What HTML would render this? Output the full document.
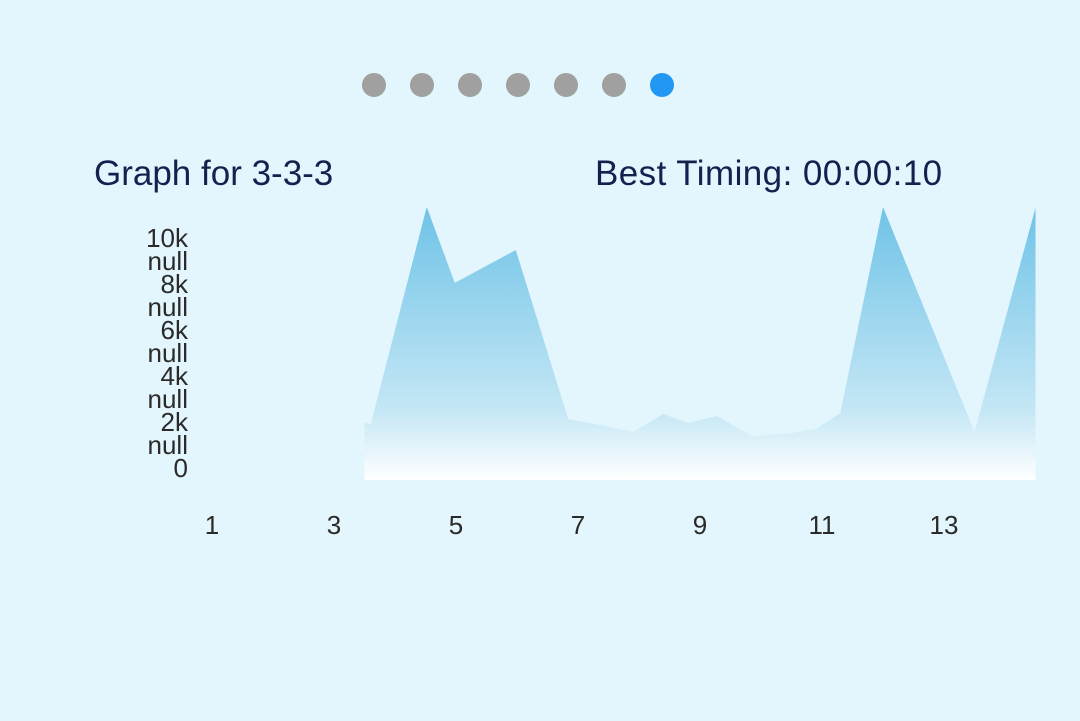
<!DOCTYPE html>
<html><head><meta charset="utf-8"><style>
body{margin:0;width:1080px;height:721px;background:#e3f6fd;font-family:"Liberation Sans",sans-serif;overflow:hidden;position:relative}
.t{position:absolute;font-size:35px;color:#16204e;top:154px;letter-spacing:0px}
</style></head><body>
<svg width="1080" height="721" style="position:absolute;left:0;top:0">
<defs><linearGradient id="g" x1="0" y1="0" x2="0" y2="1">
<stop offset="0" stop-color="#6fc3e7"/><stop offset="0.75" stop-color="#c5e7f5"/><stop offset="1" stop-color="#ffffff"/></linearGradient></defs>
<g id="dots"></g><g id="area"></g><g id="yax"></g><g id="xax"></g>
</svg>
<div class="t" style="left:94px">Graph for 3-3-3</div>
<div class="t" style="left:595px;letter-spacing:0.43px">Best Timing: 00:00:10</div>
<script>
const xs=[3.5,3.6,4.52,4.98,5.98,6.84,7.36,7.9,8.4,8.8,9.28,9.85,10.5,10.9,11.3,12,13.5,14.5];
const vals=[2500,2400,11870,8570,10000,2650,2390,2090,2870,2480,2780,1910,2040,2220,2910,11870,2090,11830];
const yTicks=["10k","null","8k","null","6k","null","4k","null","2k","null","0"];
const xTicks=[1,3,5,7,9,11,13];
const NS="http://www.w3.org/2000/svg";
const X=v=>212+(v-1)*61, Y=v=>480-v*0.023;
function mk(t,a,p){const e=document.createElementNS(NS,t);for(const k in a)e.setAttribute(k,a[k]);p.appendChild(e);return e;}
const dots=document.getElementById('dots');
for(let i=0;i<7;i++){const c=mk('circle',{cx:374+i*48,cy:85,r:12,fill:i==6?'#2196f3':'#a0a0a0'},dots);

}
let d='M'+X(xs[0])+' 480';xs.forEach((x,i)=>d+=' L'+X(x)+' '+Y(vals[i]));d+=' L'+X(xs[xs.length-1])+' 480 Z';
const a=mk('path',{d:d,fill:'url(#g)'},document.getElementById('area'));


const ya=document.getElementById('yax');
yTicks.forEach((t,i)=>{const e=mk('text',{x:188,y:247+i*23,'text-anchor':'end','font-size':26,fill:'#2a2a2a','font-family':'Liberation Sans, sans-serif'},ya);e.textContent=t;

});
const xa=document.getElementById('xax');
xTicks.forEach(t=>{const e=mk('text',{x:X(t),y:534,'text-anchor':'middle','font-size':26,fill:'#2a2a2a','font-family':'Liberation Sans, sans-serif'},xa);e.textContent=t;

});
</script>
</body></html>
